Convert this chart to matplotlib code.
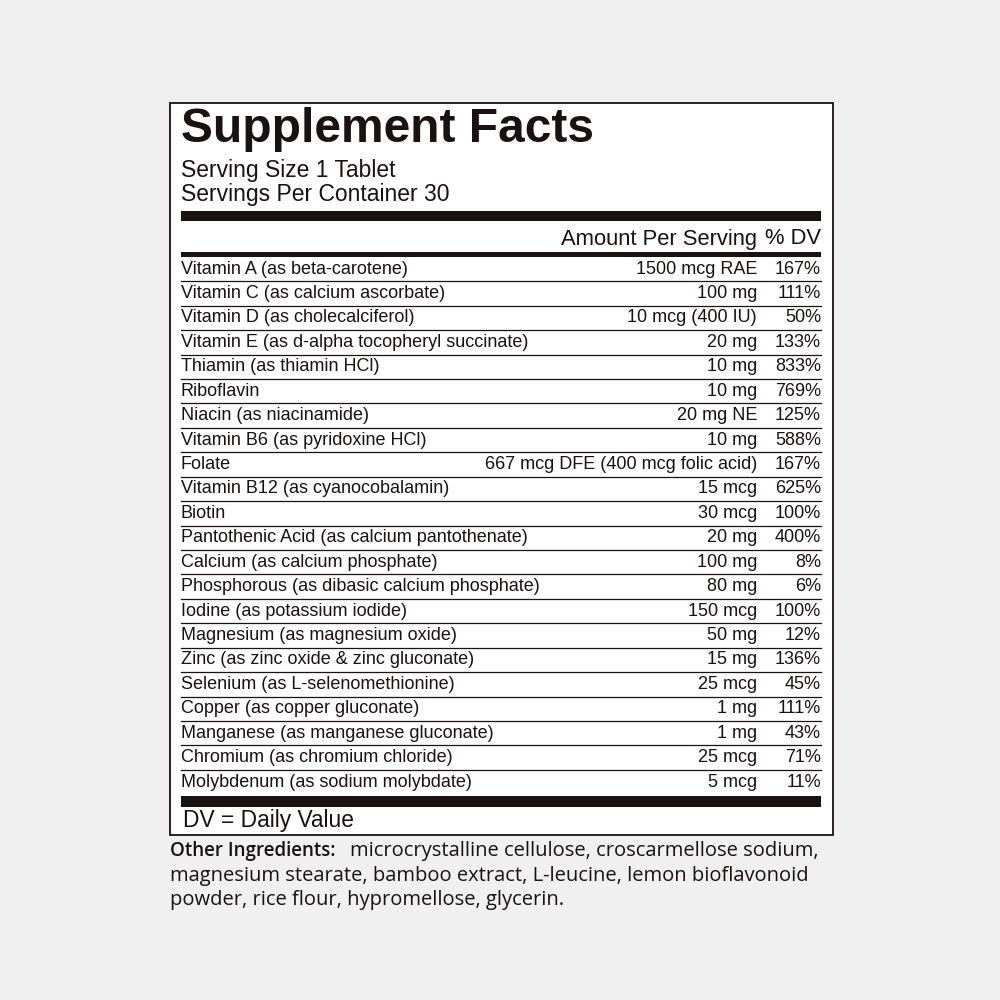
import matplotlib.pyplot as plt
from matplotlib.patches import Rectangle

nutrients = ['Vitamin A (as beta-carotene)', 'Vitamin C (as calcium ascorbate)', 'Vitamin D (as cholecalciferol)',
             'Vitamin E (as d-alpha tocopheryl succinate)', 'Thiamin (as thiamin HCl)', 'Riboflavin',
             'Niacin (as niacinamide)', 'Vitamin B6 (as pyridoxine HCl)', 'Folate',
             'Vitamin B12 (as cyanocobalamin)', 'Biotin', 'Pantothenic Acid (as calcium pantothenate)',
             'Calcium (as calcium phosphate)', 'Phosphorous (as dibasic calcium phosphate)',
             'Iodine (as potassium iodide)', 'Magnesium (as magnesium oxide)', 'Zinc (as zinc oxide & zinc gluconate)',
             'Selenium (as L-selenomethionine)', 'Copper (as copper gluconate)', 'Manganese (as manganese gluconate)',
             'Chromium (as chromium chloride)', 'Molybdenum (as sodium molybdate)']
amounts = ['1500 mcg RAE', '100 mg', '10 mcg (400 IU)', '20 mg', '10 mg', '10 mg', '20 mg NE', '10 mg',
           '667 mcg DFE (400 mcg folic acid)', '15 mcg', '30 mcg', '20 mg', '100 mg', '80 mg', '150 mcg',
           '50 mg', '15 mg', '25 mcg', '1 mg', '1 mg', '25 mcg', '5 mcg']
dv = ['167%', '111%', '50%', '133%', '833%', '769%', '125%', '588%', '167%', '625%', '100%', '400%',
      '8%', '6%', '100%', '12%', '136%', '45%', '111%', '43%', '71%', '11%']
other = ['microcrystalline cellulose, croscarmellose sodium,',
         'magnesium stearate, bamboo extract, L-leucine, lemon bioflavonoid',
         'powder, rice flour, hypromellose, glycerin.']

ink = '#1a1111'
narrow = ['Liberation Sans Narrow', 'Liberation Sans', 'DejaVu Sans']
plain = ['Liberation Sans', 'DejaVu Sans']
body = ['Open Sans', 'DejaVu Sans']

fig = plt.figure(figsize=(10, 10), dpi=100, facecolor='#f0f0f0')
ax = fig.add_axes([0, 0, 1, 1])
ax.set_xlim(0, 1000)
ax.set_ylim(1000, 0)
ax.axis('off')

L, R = 181, 821
ax.add_patch(Rectangle((170, 103), 663, 732, facecolor='white', edgecolor=ink, lw=1.3))
ax.text(L, 130, 'Supplement Facts', fontsize=34.5, fontweight='bold', family=plain, color=ink, va='center')
ax.text(L, 171, 'Serving Size 1 Tablet', fontsize=16.5, family=plain, color=ink, va='center')
ax.text(L, 195, 'Servings Per Container 30', fontsize=16.5, family=plain, color=ink, va='center')
ax.add_patch(Rectangle((L, 211), R - L, 10, color=ink, lw=0))
ax.text(757, 239, 'Amount Per Serving', fontsize=15.8, family=plain, color=ink, va='center', ha='right')
ax.text(R, 239, '% DV', fontsize=15.8, family=plain, color=ink, va='center', ha='right')
ax.add_patch(Rectangle((L, 252), R - L, 5, color=ink, lw=0))

y0, step = 269, 24.43
for i, (n, a, d) in enumerate(zip(nutrients, amounts, dv)):
    y = y0 + i * step
    ax.text(L, y, n, fontsize=13, family=narrow, color=ink, va='center')
    ax.text(757, y, a, fontsize=13, family=narrow, color=ink, va='center', ha='right')
    ax.text(R, y, d, fontsize=13, family=narrow, color=ink, va='center', ha='right')
    if i < len(nutrients) - 1:
        ax.plot([L, R], [y + step / 2, y + step / 2], color=ink, lw=0.9)

ax.add_patch(Rectangle((L, 796), R - L, 11, color=ink, lw=0))
ax.text(183, 821, 'DV = Daily Value', fontsize=16.4, family=plain, color=ink, va='center')

ax.text(170, 851, 'Other Ingredients:', fontsize=13.5, family=body, fontweight='semibold', color=ink, va='center')
ax.text(350, 851, other[0], fontsize=14.5, family=body, color=ink, va='center')
ax.text(170, 876, other[1], fontsize=14.5, family=body, color=ink, va='center')
ax.text(170, 900, other[2], fontsize=14.5, family=body, color=ink, va='center')

fig.savefig('out.png', dpi=100, facecolor=fig.get_facecolor())
